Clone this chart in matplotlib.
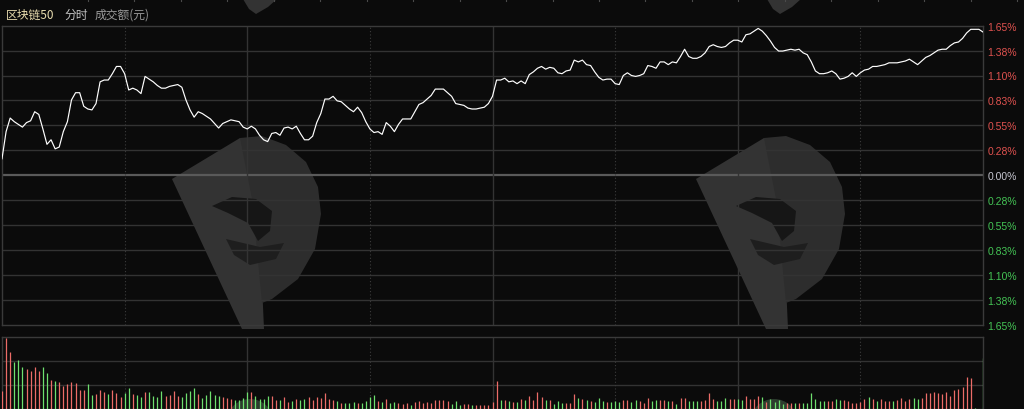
import matplotlib
matplotlib.use("Agg")
import matplotlib.pyplot as plt
from matplotlib.patches import Polygon, Ellipse
import numpy as np

# ---------------- data ----------------
title_name = "区块链50"
title_mode = "分时"
title_unit = "成交额(元)"

# percent change per minute (0..240)
price_pct = [
    0.18,
    0.48, 0.63, 0.59, 0.56, 0.53, 0.58, 0.60, 0.70, 0.67, 0.51,
    0.34, 0.39, 0.29, 0.31, 0.48, 0.59, 0.83, 0.91, 0.91, 0.76,
    0.73, 0.72, 0.79, 1.03, 1.05, 1.05, 1.12, 1.20, 1.20, 1.12,
    0.94, 0.96, 0.94, 0.90, 1.09, 1.06, 1.03, 0.99, 0.96, 0.96,
    0.98, 0.99, 1.00, 0.97, 0.83, 0.72, 0.64, 0.70, 0.68, 0.65,
    0.62, 0.57, 0.52, 0.57, 0.59, 0.61, 0.60, 0.59, 0.53, 0.51,
    0.54, 0.51, 0.44, 0.39, 0.37, 0.46, 0.47, 0.44, 0.52, 0.53,
    0.51, 0.54, 0.46, 0.39, 0.39, 0.43, 0.58, 0.68, 0.84, 0.84,
    0.87, 0.82, 0.81, 0.77, 0.73, 0.70, 0.75, 0.69, 0.59, 0.51,
    0.47, 0.48, 0.45, 0.58, 0.54, 0.48, 0.56, 0.62, 0.62, 0.62,
    0.70, 0.78, 0.80, 0.84, 0.88, 0.95, 0.95, 0.95, 0.91, 0.87,
    0.79, 0.78, 0.77, 0.74, 0.73, 0.73, 0.74, 0.75, 0.79, 0.87,
    1.05, 1.05, 1.07, 1.03, 1.04, 1.01, 1.04, 1.01, 1.11, 1.14,
    1.18, 1.20, 1.17, 1.19, 1.18, 1.13, 1.12, 1.15, 1.16, 1.27,
    1.25, 1.27, 1.22, 1.21, 1.14, 1.08, 1.05, 1.06, 1.06, 1.01,
    1.00, 1.10, 1.13, 1.10, 1.09, 1.10, 1.12, 1.21, 1.20, 1.18,
    1.25, 1.25, 1.22, 1.25, 1.24, 1.31, 1.39, 1.31, 1.29, 1.29,
    1.31, 1.35, 1.42, 1.44, 1.42, 1.41, 1.42, 1.46, 1.49, 1.49,
    1.47, 1.55, 1.56, 1.59, 1.62, 1.59, 1.54, 1.48, 1.41, 1.37,
    1.37, 1.38, 1.39, 1.38, 1.39, 1.35, 1.33, 1.25, 1.15, 1.12,
    1.12, 1.13, 1.15, 1.12, 1.06, 1.07, 1.09, 1.13, 1.09, 1.13,
    1.16, 1.17, 1.20, 1.20, 1.21, 1.22, 1.24, 1.24, 1.24, 1.25,
    1.26, 1.28, 1.25, 1.22, 1.26, 1.30, 1.32, 1.35, 1.38, 1.39,
    1.39, 1.43, 1.46, 1.47, 1.51, 1.57, 1.61, 1.61, 1.61, 1.58,
]

# turnover per minute (relative units, panel top = 3)
volume = [
    0.75, 2.97, 2.39, 1.97, 2.06, 1.75, 1.67, 1.58, 1.75, 1.61,
    1.75, 1.50, 1.21, 1.17, 1.125, 0.97, 1.04, 1.125, 1.08, 0.79,
    0.79, 1.04, 0.58, 0.625, 0.79, 0.71, 0.625, 0.79, 0.67, 0.50,
    0.67, 0.875, 0.625, 0.58, 0.50, 0.71, 0.71, 0.54, 0.50, 0.75,
    0.54, 0.58, 0.75, 0.54, 0.50, 0.67, 0.75, 0.875, 0.625, 0.46,
    0.58, 0.75, 0.58, 0.54, 0.50, 0.46, 0.42, 0.375, 0.375, 0.46,
    0.71, 0.71, 0.54, 0.42, 0.42, 0.54, 0.54, 0.375, 0.375, 0.50,
    0.29, 0.33, 0.42, 0.375, 0.42, 0.50, 0.375, 0.50, 0.46, 0.67,
    0.42, 0.375, 0.33, 0.25, 0.25, 0.25, 0.29, 0.25, 0.25, 0.33,
    0.50, 0.58, 0.33, 0.29, 0.42, 0.25, 0.29, 0.25, 0.21, 0.25,
    0.17, 0.29, 0.33, 0.25, 0.29, 0.25, 0.375, 0.375, 0.375, 0.33,
    0.21, 0.33, 0.17, 0.21, 0.21, 0.17, 0.17, 0.17, 0.17, 0.17,
    0.29, 1.17, 0.375, 0.375, 0.33, 0.29, 0.29, 0.42, 0.375, 0.54,
    0.375, 0.71, 0.50, 0.375, 0.375, 0.21, 0.33, 0.25, 0.25, 0.25,
    0.625, 0.46, 0.42, 0.375, 0.33, 0.29, 0.46, 0.33, 0.29, 0.29,
    0.33, 0.29, 0.375, 0.375, 0.29, 0.375, 0.33, 0.25, 0.46, 0.33,
    0.375, 0.375, 0.375, 0.33, 0.33, 0.21, 0.46, 0.46, 0.33, 0.33,
    0.33, 0.33, 0.375, 0.67, 0.42, 0.33, 0.33, 0.46, 0.42, 0.42,
    0.42, 0.375, 0.54, 0.42, 0.42, 0.54, 0.50, 0.29, 0.42, 0.29,
    0.375, 0.21, 0.25, 0.25, 0.25, 0.25, 0.25, 0.25, 0.67, 0.42,
    0.33, 0.33, 0.33, 0.33, 0.42, 0.375, 0.375, 0.33, 0.25, 0.25,
    0.29, 0.42, 0.50, 0.42, 0.33, 0.42, 0.33, 0.33, 0.33, 0.375,
    0.46, 0.33, 0.42, 0.46, 0.42, 0.46, 0.67, 0.67, 0.71, 0.67,
    0.625, 0.71, 0.54, 0.79, 0.83, 0.92, 1.33, 1.29, 0.04, 0.0,
    2.125,
]

# R = up minute (red bar), G = down minute (green bar)
direction = (
    "RRRGGGRRRR" "GGRGRRRRRR" "RGGRRRGRRR" "GGRGGRGGGG" "RRRRGGGGRG"
    "GGGGRRRGGG" "GRGGGGRRGR" "RGRGGRRRRR" "RRGRGGGRGG" "GGRGRGGRRR"
    "GRRRRRRRRR" "GGGRRGRRRR" "RRGRGRGRGR" "RRRGRGGGRR" "RGRGRGGGRG"
    "GGRRGGRRRG" "GRRGRGRRGG" "GRRRRGGGRR" "GGRRRRGRGG" "GGRRGRGGGG"
    "GGRRGGRRRR" "RRGRGRRRGR" "RRRGGRRRRR" "RRRRRRRRGG" "G"
)

tick_values = [1.65, 1.375, 1.10, 0.825, 0.55, 0.275, 0.0,
               -0.275, -0.55, -0.825, -1.10, -1.375, -1.65]
tick_labels = ["1.65%", "1.38%", "1.10%", "0.83%", "0.55%", "0.28%", "0.00%",
               "0.28%", "0.55%", "0.83%", "1.10%", "1.38%", "1.65%"]
half_hour_marks = [30, 90, 150, 210]
hour_marks = [60, 120, 180]

# ---------------- style ----------------
W, H = 1024, 410
BG = "#0b0b0b"
GRID = "#333333"
SPINE = "#3a3a3a"
RED = "#ec6c68"
GREEN = "#6ee06e"
LBL_RED = "#e0524f"
LBL_GREEN = "#44c455"
LBL_ZERO = "#c8c8d2"

fig = plt.figure(figsize=(W / 100, H / 100), dpi=100, facecolor=BG)

def fx(px):
    return px / W

def fy(py):
    return 1 - py / H

# background / watermark layer
bg = fig.add_axes([0, 0, 1, 1], zorder=0)
bg.set_xlim(0, W)
bg.set_ylim(H, 0)
bg.axis("off")
bg.set_facecolor(BG)

def watermark(dx):
    band = [(172, 180), (240, 139), (256, 150), (264, 330), (242, 330)]
    bg.add_patch(Polygon([(x + dx, y) for x, y in band], closed=True,
                         facecolor="#333333", edgecolor="none"))
    d = [(240, 139), (262, 137), (286, 146), (306, 163), (318, 188), (321, 215),
         (315, 250), (298, 280), (272, 300), (262, 304), (252, 200)]
    bg.add_patch(Polygon([(x + dx, y) for x, y in d], closed=True,
                         facecolor="#2d2d2d", edgecolor="none"))
    head = [(212, 207), (232, 198), (256, 200), (272, 212), (270, 232),
            (258, 242), (248, 224), (228, 214)]
    bg.add_patch(Polygon([(x + dx, y) for x, y in head], closed=True,
                         facecolor="#161616", edgecolor="none"))
    wing = [(226, 240), (260, 248), (284, 244), (276, 260), (250, 266), (234, 256)]
    bg.add_patch(Polygon([(x + dx, y) for x, y in wing], closed=True,
                         facecolor="#1e1e1e", edgecolor="none"))
    top = [(243, 0), (249, 10), (256, 15), (268, 8), (277, 0)]
    bg.add_patch(Polygon([(x + dx, y) for x, y in top], closed=True,
                         facecolor="#333333", edgecolor="none"))
    bg.add_patch(Ellipse((250 + dx, 422), 46, 44, facecolor="#4f6f52",
                         edgecolor="none", alpha=0.5))

watermark(0)
watermark(524)

# tiny ticks of panel above at the very top
for k in range(21):
    xx = 88 + 46.45 * k
    bg.plot([xx, xx], [0, 2], color="#4a4a4a", lw=0.8)

# ---------------- main price panel ----------------
top_px, bot_px, left_px, right_px = 26.7, 325.5, 2.0, 983.0
ax = fig.add_axes([fx(left_px), fy(bot_px), fx(right_px - left_px),
                   (bot_px - top_px) / H], zorder=2)
ax.set_facecolor("none")
minutes = np.arange(len(price_pct))
ax.set_xlim(0, 240)
ax.set_ylim(-1.65, 1.65)

for v in tick_values:
    if v == 0:
        ax.axhline(v, color="#5a5a5a", lw=1.6, zorder=1)
    elif abs(v) < 1.6:
        ax.axhline(v, color=GRID, lw=1.0, zorder=1)
for m in half_hour_marks:
    ax.axvline(m, color="#3c3c3c", lw=0.8, ls=(0, (1, 2)), zorder=1)
for m in hour_marks:
    ax.axvline(m, color=GRID, lw=1.0, zorder=1)

ax.plot(minutes, price_pct, color="white", lw=0.85, zorder=3)

for s in ax.spines.values():
    s.set_color(SPINE)
    s.set_linewidth(1.0)
ax.set_xticks([])
ax.yaxis.tick_right()
ax.set_yticks(tick_values)
ax.set_yticklabels(tick_labels, fontsize=7.5, family=["Liberation Sans", "DejaVu Sans"])
ax.tick_params(axis="y", length=0, pad=3.0)
for lbl, v in zip(ax.get_yticklabels(), tick_values):
    lbl.set_color(LBL_RED if v > 0 else (LBL_GREEN if v < 0 else LBL_ZERO))

# ---------------- volume panel ----------------
vtop, vbot = 338.3, 410.3
vax = fig.add_axes([fx(left_px), fy(vbot), fx(right_px - left_px),
                    (vbot - vtop) / H], zorder=2)
vax.set_facecolor("none")
vax.set_xlim(0, 240)
vax.set_ylim(0, 3)
for v in [1, 2]:
    vax.axhline(v, color=GRID, lw=1.0, zorder=1)
for m in half_hour_marks:
    vax.axvline(m, color="#3c3c3c", lw=0.8, ls=(0, (1, 2)), zorder=1)
for m in hour_marks:
    vax.axvline(m, color=GRID, lw=1.0, zorder=1)
colors = [RED if d == "R" else GREEN for d in direction]
vax.vlines(np.arange(len(volume)), 0, volume, colors=colors, linewidth=0.9,
           antialiased=True, zorder=3)
for s in vax.spines.values():
    s.set_color(SPINE)
    s.set_linewidth(1.0)
vax.set_xticks([])
vax.set_yticks([])

# ---------------- title ----------------
cjk = ["Noto Sans CJK SC", "DejaVu Sans"]
fig.text(fx(6), fy(15.5), title_name, color="#e8dcae", fontsize=8.5,
         family=cjk, va="center", ha="left")
fig.text(fx(64), fy(15.5), title_mode, color="#c4c4c4", fontsize=8.5,
         family=cjk, va="center", ha="left")
fig.text(fx(95), fy(15.5), title_unit, color="#9a9a9a", fontsize=8.5,
         family=cjk, va="center", ha="left")

fig.savefig("out.png", dpi=100, facecolor=BG)
